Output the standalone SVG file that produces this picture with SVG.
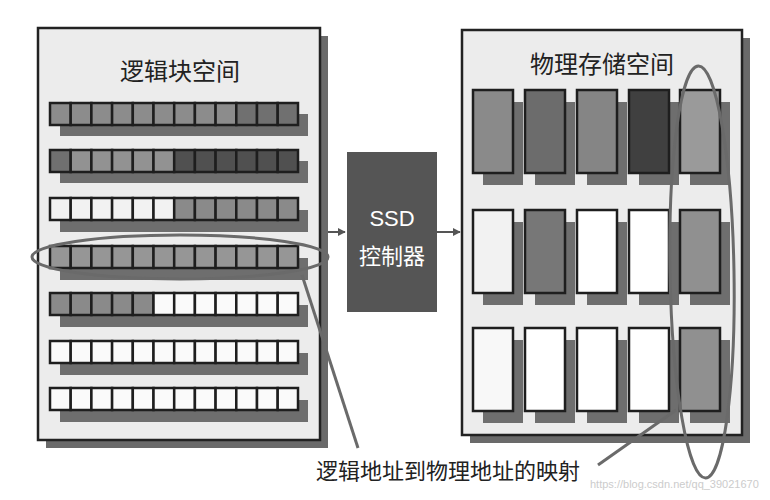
<svg xmlns="http://www.w3.org/2000/svg" width="770" height="500" viewBox="0 0 770 500">
<style>
.t{font-family:"Noto Sans CJK SC","Liberation Sans",sans-serif;fill:#222}
.c{stroke:#1e1e1e;stroke-width:2.5}
.sh{fill:#6e6e6e}
.hl{fill:none;stroke:#6a6a6a;stroke-width:3}
</style>
<defs>
<marker id="a" viewBox="0 0 10 10" refX="9" refY="5" markerWidth="4" markerHeight="4" orient="auto"><path d="M0,0L10,5L0,10z" fill="#555"/></marker>
</defs>
<rect width="770" height="500" fill="#fff"/>
<g id="left">
<rect x="46" y="36" width="282" height="412" fill="#6a6a6a"/>
<rect x="38" y="28" width="282" height="412" fill="#ececec" stroke="#222" stroke-width="2.5"/>
<text class="t" x="180" y="80" font-size="24" text-anchor="middle">逻辑块空间</text>
<g id="rows">
<rect class="sh" x="60" y="114" width="248" height="22"/>
<rect class="sh" x="60" y="161" width="248" height="22"/>
<rect class="sh" x="60" y="210" width="248" height="22"/>
<rect class="sh" x="60" y="258" width="248" height="22"/>
<rect class="sh" x="60" y="305" width="248" height="22"/>
<rect class="sh" x="60" y="353" width="248" height="22"/>
<rect class="sh" x="60" y="400" width="248" height="22"/>
</g>
</g>
<g id="ssd">
<rect x="347" y="152" width="90" height="160" fill="#555"/>
<text x="392" y="226" font-size="22" fill="#fff" text-anchor="middle" font-family="Liberation Sans,sans-serif">SSD</text>
<text x="392" y="264" font-size="22" fill="#fff" text-anchor="middle" font-family="Noto Sans CJK SC,sans-serif">控制器</text>
</g>
<g id="right">
<rect x="470" y="38" width="280" height="405" fill="#6a6a6a"/>
<rect x="462" y="30" width="280" height="405" fill="#ececec" stroke="#222" stroke-width="2.5"/>
<text class="t" x="602" y="73" font-size="24" text-anchor="middle">物理存储空间</text>
<g class="sh">
<rect x="483" y="102" width="40" height="83"/><rect x="535" y="102" width="40" height="83"/><rect x="587" y="102" width="40" height="83"/><rect x="639" y="102" width="40" height="83"/><rect x="690" y="102" width="40" height="83"/>
<rect x="483" y="222" width="40" height="83"/><rect x="535" y="222" width="40" height="83"/><rect x="587" y="222" width="40" height="83"/><rect x="639" y="222" width="40" height="83"/><rect x="690" y="222" width="40" height="83"/>
<rect x="483" y="340" width="40" height="83"/><rect x="535" y="340" width="40" height="83"/><rect x="587" y="340" width="40" height="83"/><rect x="639" y="340" width="40" height="83"/><rect x="690" y="340" width="40" height="83"/>
</g>
<g class="c">
<rect x="473" y="90" width="40" height="83" fill="#8a8a8a"/><rect x="525" y="90" width="40" height="83" fill="#6c6c6c"/><rect x="577" y="90" width="40" height="83" fill="#858585"/><rect x="629" y="90" width="40" height="83" fill="#404040"/><rect x="680" y="90" width="40" height="83" fill="#9a9a9a"/>
<rect x="473" y="210" width="40" height="83" fill="#f2f2f2"/><rect x="525" y="210" width="40" height="83" fill="#777"/><rect x="577" y="210" width="40" height="83" fill="#fff"/><rect x="629" y="210" width="40" height="83" fill="#fff"/><rect x="680" y="210" width="40" height="83" fill="#909090"/>
<rect x="473" y="328" width="40" height="83" fill="#f8f8f8"/><rect x="525" y="328" width="40" height="83" fill="#fff"/><rect x="577" y="328" width="40" height="83" fill="#fff"/><rect x="629" y="328" width="40" height="83" fill="#fff"/><rect x="680" y="328" width="40" height="83" fill="#909090"/>
</g>
</g>
<g id="leftcells" class="c">
<g fill="#8c8c8c"><rect x="50" y="103" width="20.7" height="22"/><rect x="70.7" y="103" width="20.7" height="22"/><rect x="91.4" y="103" width="20.7" height="22"/><rect x="112.1" y="103" width="20.7" height="22"/><rect x="132.8" y="103" width="20.7" height="22"/><rect x="153.5" y="103" width="20.7" height="22"/><rect x="174.2" y="103" width="20.7" height="22"/><rect x="194.9" y="103" width="20.7" height="22"/><rect x="215.6" y="103" width="20.7" height="22"/></g>
<g fill="#707070"><rect x="236.3" y="103" width="20.7" height="22"/><rect x="257" y="103" width="20.7" height="22"/><rect x="277.7" y="103" width="20.3" height="22"/></g>
<g fill="#707070"><rect x="50" y="150" width="20.7" height="22"/></g>
<g fill="#929292"><rect x="70.7" y="150" width="20.7" height="22"/><rect x="91.4" y="150" width="20.7" height="22"/><rect x="112.1" y="150" width="20.7" height="22"/><rect x="132.8" y="150" width="20.7" height="22"/><rect x="153.5" y="150" width="20.7" height="22"/></g>
<g fill="#505050"><rect x="174.2" y="150" width="20.7" height="22"/><rect x="194.9" y="150" width="20.7" height="22"/><rect x="215.6" y="150" width="20.7" height="22"/><rect x="236.3" y="150" width="20.7" height="22"/><rect x="257" y="150" width="20.7" height="22"/><rect x="277.7" y="150" width="20.3" height="22"/></g>
<g fill="#f2f2f2"><rect x="50" y="198" width="20.7" height="22"/><rect x="70.7" y="198" width="20.7" height="22"/><rect x="91.4" y="198" width="20.7" height="22"/><rect x="112.1" y="198" width="20.7" height="22"/><rect x="132.8" y="198" width="20.7" height="22"/><rect x="153.5" y="198" width="20.7" height="22"/></g>
<g fill="#8a8a8a"><rect x="174.2" y="198" width="20.7" height="22"/><rect x="194.9" y="198" width="20.7" height="22"/><rect x="215.6" y="198" width="20.7" height="22"/><rect x="236.3" y="198" width="20.7" height="22"/><rect x="257" y="198" width="20.7" height="22"/><rect x="277.7" y="198" width="20.3" height="22"/></g>
<g fill="#969696"><rect x="50" y="246" width="20.7" height="22"/><rect x="70.7" y="246" width="20.7" height="22"/><rect x="91.4" y="246" width="20.7" height="22"/><rect x="112.1" y="246" width="20.7" height="22"/><rect x="132.8" y="246" width="20.7" height="22"/><rect x="153.5" y="246" width="20.7" height="22"/><rect x="174.2" y="246" width="20.7" height="22"/><rect x="194.9" y="246" width="20.7" height="22"/><rect x="215.6" y="246" width="20.7" height="22"/><rect x="236.3" y="246" width="20.7" height="22"/><rect x="257" y="246" width="20.7" height="22"/><rect x="277.7" y="246" width="20.3" height="22"/></g>
<g fill="#8a8a8a"><rect x="50" y="293" width="20.7" height="22"/><rect x="70.7" y="293" width="20.7" height="22"/><rect x="91.4" y="293" width="20.7" height="22"/><rect x="112.1" y="293" width="20.7" height="22"/><rect x="132.8" y="293" width="20.7" height="22"/></g>
<g fill="#fafafa"><rect x="153.5" y="293" width="20.7" height="22"/><rect x="174.2" y="293" width="20.7" height="22"/><rect x="194.9" y="293" width="20.7" height="22"/><rect x="215.6" y="293" width="20.7" height="22"/><rect x="236.3" y="293" width="20.7" height="22"/><rect x="257" y="293" width="20.7" height="22"/><rect x="277.7" y="293" width="20.3" height="22"/></g>
<g fill="#fafafa"><rect x="50" y="341" width="20.7" height="22"/><rect x="70.7" y="341" width="20.7" height="22"/><rect x="91.4" y="341" width="20.7" height="22"/><rect x="112.1" y="341" width="20.7" height="22"/><rect x="132.8" y="341" width="20.7" height="22"/><rect x="153.5" y="341" width="20.7" height="22"/><rect x="174.2" y="341" width="20.7" height="22"/><rect x="194.9" y="341" width="20.7" height="22"/><rect x="215.6" y="341" width="20.7" height="22"/><rect x="236.3" y="341" width="20.7" height="22"/><rect x="257" y="341" width="20.7" height="22"/><rect x="277.7" y="341" width="20.3" height="22"/>
<rect x="50" y="388" width="20.7" height="22"/><rect x="70.7" y="388" width="20.7" height="22"/><rect x="91.4" y="388" width="20.7" height="22"/><rect x="112.1" y="388" width="20.7" height="22"/><rect x="132.8" y="388" width="20.7" height="22"/><rect x="153.5" y="388" width="20.7" height="22"/><rect x="174.2" y="388" width="20.7" height="22"/><rect x="194.9" y="388" width="20.7" height="22"/><rect x="215.6" y="388" width="20.7" height="22"/><rect x="236.3" y="388" width="20.7" height="22"/><rect x="257" y="388" width="20.7" height="22"/><rect x="277.7" y="388" width="20.3" height="22"/></g>
</g>
<g id="connectors">
<line x1="328" y1="232" x2="345" y2="232" stroke="#555" stroke-width="2" marker-end="url(#a)"/>
<line x1="437" y1="232" x2="460" y2="232" stroke="#555" stroke-width="2" marker-end="url(#a)"/>
<ellipse class="hl" cx="180" cy="257" rx="148" ry="22"/>
<ellipse class="hl" cx="702" cy="272" rx="32" ry="206" transform="rotate(-1 702 272)"/>
<line class="hl" x1="358" y1="448" x2="302" y2="275"/>
<line class="hl" x1="598" y1="465" x2="676" y2="410"/>
</g>
<text x="590" y="488" font-size="11" fill="#ccc" font-family="Liberation Sans,sans-serif">https://blog.csdn.net/qq_39021670</text>
<text class="t" x="448" y="479" font-size="22" text-anchor="middle">逻辑地址到物理地址的映射</text>
</svg>
